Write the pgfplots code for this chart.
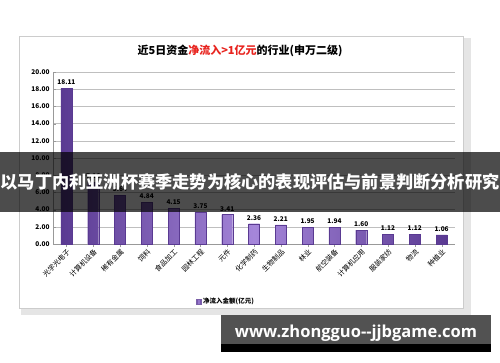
\documentclass[border=0pt]{standalone}
\usepackage{pgfplots}
\pgfplotsset{compat=1.18}
\usepackage{fontspec}
\setmainfont{Noto Sans CJK SC}
\newfontfamily\wwwfont{Open Sans}
\definecolor{barmid}{HTML}{A586DA}
\definecolor{baredge}{HTML}{5A3A92}
\definecolor{titlered}{HTML}{E8231E}
\begin{document}
\begin{tikzpicture}
\path[use as bounding box] (0pt,0pt) rectangle (500pt,362pt);
\fill[white] (0pt,0pt) rectangle (500pt,362pt);
% shadow of panel
\fill[black!22] (23pt,50pt) rectangle (469pt,322pt);
\fill[black!10] (21pt,47pt) rectangle (471pt,324pt);
\fill[white,draw=black!20] (19pt,54pt) rectangle (463pt,326pt);
\node[font=\bfseries\fontsize{11}{13}\selectfont] at (240pt,311pt) {近5日资金\textcolor{titlered}{净流入>1亿元}的行业(申万二级)};
\begin{axis}[
  at={(53pt,118pt)}, anchor=south west,
  scale only axis, width=402pt, height=172pt,
  ymin=0, ymax=20, ytick={0,2,...,20},
  xmin=-0.5, xmax=14.5,
  xtick=data,
  xticklabels={光学光电子,计算机设备,稀有金属,饲料,食品加工,园林工程,元件,化学制药,生物制品,林业,航空装备,计算机应用,服装家纺,物流,种植业},
  xticklabel style={rotate=45, anchor=north east, font=\fontsize{7}{8}\selectfont, inner sep=1pt},
  yticklabel style={font=\bfseries\fontsize{6.5}{8}\selectfont},
  /pgf/number format/assume math mode=true,
  /pgf/number format/.cd, fixed, fixed zerofill, precision=2, /pgfplots/.cd,
  ymajorgrids, grid style={black!25},
  axis line style={black!40},
  axis x line*=bottom, axis y line*=left,
  tick style={black!40}, major tick length=3pt,
  ybar, bar width=11pt,
  nodes near coords,
  every node near coord/.append style={font=\bfseries\fontsize{6.5}{8}\selectfont, /pgf/number format/fixed, /pgf/number format/fixed zerofill, /pgf/number format/precision=2, /pgf/number format/assume math mode=true},
  legend style={at={(0.43,-0.29)}, anchor=north, draw=none, font=\bfseries\fontsize{6.5}{8}\selectfont, fill=none},
  legend image code/.code={\fill[baredge!80] (0pt,-2.5pt) rectangle (5pt,2.5pt);},
]
\addplot[draw=baredge, left color=baredge, right color=baredge, middle color=barmid] coordinates {
(0,18.11) (1,7.16) (2,5.64) (3,4.84) (4,4.15) (5,3.75) (6,3.41) (7,2.36) (8,2.21) (9,1.95) (10,1.94) (11,1.60) (12,1.12) (13,1.12) (14,1.06)};
\addlegendentry{净流入金额(亿元)}
\end{axis}
% banner
\fill[black,opacity=0.7] (0pt,150pt) rectangle (500pt,210pt);
\node[white, font=\bfseries\fontsize{17.2}{19}\selectfont] at (250pt,180pt) {以马丁内利亚洲杯赛季走势为核心的表现评估与前景判断分析研究};
% bottom box
\fill[black!68] (221pt,10pt) rectangle (491pt,47pt);
\fill[black] (221pt,10pt) rectangle (491pt,18pt);
\node[white, font=\wwwfont\bfseries\fontsize{16.5}{18}\selectfont] at (356pt,29pt) {www.zhongguo--jjbgame.com};
\end{tikzpicture}
\end{document}
